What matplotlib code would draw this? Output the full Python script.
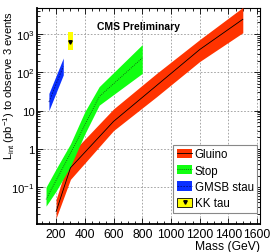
import matplotlib
matplotlib.use("Agg")
import matplotlib.pyplot as plt
from matplotlib.patches import Patch
from matplotlib.lines import Line2D
from matplotlib.legend_handler import HandlerTuple
from matplotlib.ticker import FixedLocator, MultipleLocator, LogLocator, NullFormatter

plt.rcParams['font.family'] = ['Liberation Sans', 'DejaVu Sans']
plt.rcParams['mathtext.fontset'] = 'custom'
plt.rcParams['mathtext.rm'] = 'Liberation Sans'
plt.rcParams['mathtext.it'] = 'Liberation Sans'

## Data ##
gluino_mass = [200, 300, 600, 900, 1200, 1500]
gluino_lumi = [0.023, 0.32, 5.2, 45, 390, 2400]
gluino_lo = [0.0155, 0.16, 3.0, 23, 190, 1070]
gluino_hi = [0.048, 0.72, 11, 93, 710, 4900]

stop_mass = [130, 200, 300, 400, 500, 800]
stop_lumi = [0.048, 0.15, 0.76, 4.2, 23, 235]
stop_lo = [0.032, 0.079, 0.35, 2.45, 13.8, 93]
stop_hi = [0.1, 0.3, 1.35, 9.3, 42, 525]

stau_mass = [150, 250]
stau_lumi = [16.6, 141]
stau_lo = [10, 85]
stau_hi = [28, 234]

kktau_mass = [300]
kktau_lumi = [600]
kktau_lo = [390]
kktau_hi = [1100]
kktau_dm = 20

fs = 8.7

fig = plt.figure(figsize=(2.72, 2.53), dpi=100)
ax = fig.add_axes([0.136, 0.111, 0.820, 0.853])

## Bands ##
ax.fill_between(gluino_mass, gluino_lo, gluino_hi, color='#ff3300', lw=0, zorder=3)
ax.plot(gluino_mass, gluino_lumi, color='black', lw=0.6, zorder=4)

ax.fill_between(stop_mass, stop_lo, stop_hi, color='#11ff11', lw=0, zorder=3)
ax.plot(stop_mass, stop_lumi, color='#114411', lw=0.6, ls=(0, (1, 1.5)), zorder=4)

ax.fill_between(stau_mass, stau_lo, stau_hi, color='#0a30ff', lw=0, zorder=3)
ax.plot(stau_mass, stau_lumi, color='#001080', lw=0.6, ls=(0, (2, 1.5)), zorder=4)

for m, lo, hi in zip(kktau_mass, kktau_lo, kktau_hi):
    ax.fill_between([m - kktau_dm, m + kktau_dm], [lo, lo], [hi, hi],
                    color='#ffff00', lw=0, zorder=3)
ax.plot(kktau_mass, kktau_lumi, 'v', color='black', ms=2.5, zorder=5)

## Axes ##
ax.set_yscale('log')
ax.set_xlim(67, 1620)
ax.set_ylim(0.011, 4700)

ax.xaxis.set_major_locator(FixedLocator([200, 400, 600, 800, 1000, 1200, 1400, 1600]))
ax.xaxis.set_minor_locator(MultipleLocator(50))
ax.set_xticklabels(['200', '400', '600', '800', '1000', '1200', '1400', '1600'])

ax.yaxis.set_major_locator(FixedLocator([0.1, 1, 10, 100, 1000]))
ax.set_yticklabels([r'$10^{-1}$', '1', '10', r'$10^{2}$', r'$10^{3}$'])
ax.yaxis.set_minor_locator(LogLocator(base=10, subs=range(2, 10)))
ax.yaxis.set_minor_formatter(NullFormatter())

ax.tick_params(which='both', direction='in', top=True, right=True, labelsize=fs, width=0.6)
ax.tick_params(which='major', length=4)
ax.tick_params(which='minor', length=2)
ax.tick_params(axis='x', pad=3)
ax.tick_params(axis='y', pad=1.5, labelsize=8.2)

for s in ax.spines.values():
    s.set_linewidth(0.8)
ax.spines['left'].set_linewidth(1.3)
ax.spines['bottom'].set_linewidth(1.3)

ax.grid(True, which='major', color='#999999', lw=0.6, ls=(0, (2, 2)), zorder=1)

ax.set_xlabel('Mass (GeV)', fontsize=fs, loc='right', labelpad=0)
ax.set_ylabel(r'L$_{\mathrm{int}}$ (pb$^{-1}$) to observe 3 events', fontsize=8.0, loc='top')
ax.yaxis.set_label_coords(-0.088, 0.99)

ax.text(0.27, 0.915, 'CMS Preliminary', transform=ax.transAxes, fontsize=7.5,
        fontweight='bold', va='center', ha='left')

## Legend ##
h_gluino = (Patch(facecolor='#ff3300', edgecolor='none'), Line2D([], [], color='black', lw=0.6))
h_stop = (Patch(facecolor='#11ff11', edgecolor='none'), Line2D([], [], color='#114411', lw=0.6, ls=(0, (1, 1.5))))
h_stau = (Patch(facecolor='#0a30ff', edgecolor='none'), Line2D([], [], color='#001080', lw=0.6, ls=(0, (2, 1.5))))
h_kk = (Patch(facecolor='#ffff00', edgecolor='black', lw=0.6), Line2D([], [], marker='v', color='black', ls='none', ms=2.5))

leg = ax.legend([h_gluino, h_stop, h_stau, h_kk], ['Gluino', 'Stop', 'GMSB stau', 'KK tau'],
                handler_map={tuple: HandlerTuple(ndivide=1, pad=0)},
                loc='lower right', bbox_to_anchor=(0.987, 0.051), fontsize=8.3,
                frameon=True, fancybox=False, edgecolor='#888888', framealpha=1,
                handlelength=1.35, handleheight=0.85, handletextpad=0.2,
                labelspacing=0.38, borderpad=0.3, borderaxespad=0)
leg.get_frame().set_linewidth(0.8)
leg.set_zorder(10)

fig.savefig('out.png', dpi=100)
